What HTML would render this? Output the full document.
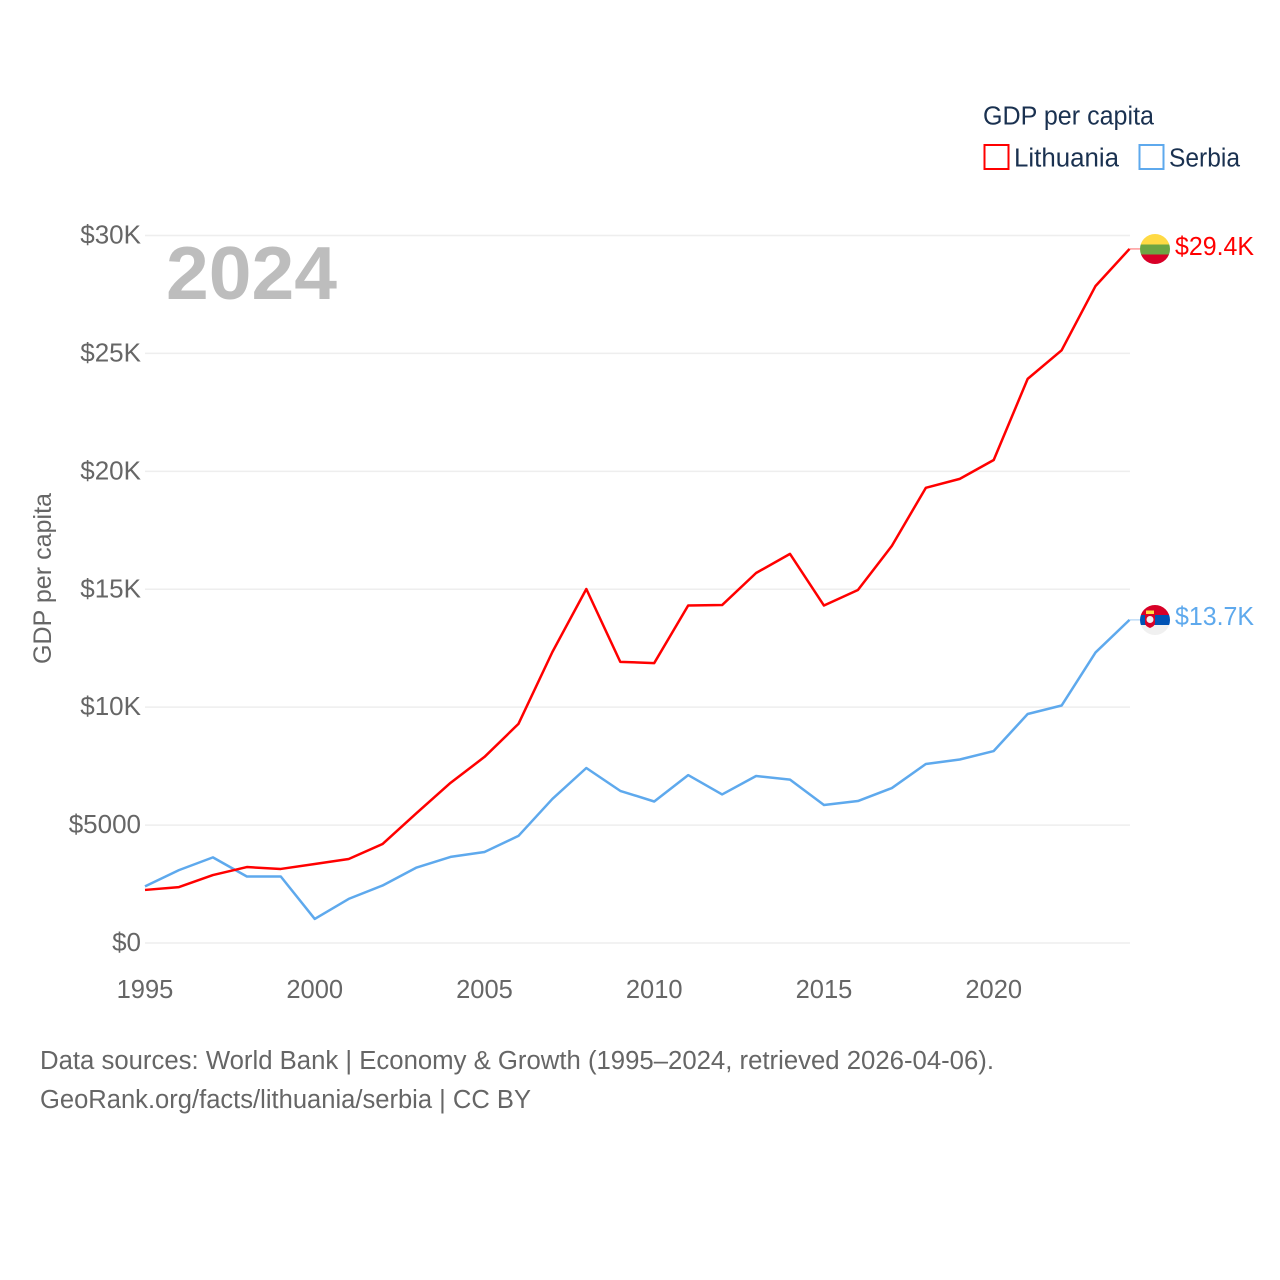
<!DOCTYPE html>
<html lang="en">
<head>
<meta charset="utf-8">
<title>GDP per capita: Lithuania and Serbia</title>
<style>
html,body{margin:0;padding:0;background:#fff}
svg{display:block}
text{font-family:"Liberation Sans",sans-serif}
</style>
</head>
<body>
<svg id="chart" xmlns="http://www.w3.org/2000/svg" width="1280" height="1280" viewBox="0 0 1280 1280">
  <rect width="1280" height="1280" fill="#fff"/>
  <g id="grid"></g>
  <g id="yticks"></g>
  <g id="xticks"></g>
  <text x="166" y="299" font-size="75" font-weight="700" fill="#bdbdbd" textLength="171" lengthAdjust="spacingAndGlyphs">2024</text>
  <text transform="translate(51,664) rotate(-90)" font-size="25" fill="#666" textLength="171" lengthAdjust="spacingAndGlyphs">GDP per capita</text>
  <g id="series"></g>
  <defs>
    <clipPath id="clip-lt"><circle cx="1155" cy="249" r="15"/></clipPath>
    <clipPath id="clip-rs"><circle cx="1155" cy="620" r="15"/></clipPath>
  </defs>
  <g clip-path="url(#clip-lt)">
    <rect x="1140" y="234" width="30" height="10.5" fill="#ffda44"/>
    <rect x="1140" y="244.5" width="30" height="10" fill="#6da544"/>
    <rect x="1140" y="254.5" width="30" height="10" fill="#d80027"/>
  </g>
  <g clip-path="url(#clip-rs)">
    <rect x="1140" y="605" width="30" height="10" fill="#d80027"/>
    <rect x="1140" y="615" width="30" height="10" fill="#0052b4"/>
    <rect x="1140" y="625" width="30" height="10" fill="#f0f0f0"/>
    <path d="M1145 614h10v9q0 3-5 5q-5-2-5-5z" fill="#d80027"/>
    <path d="M1146 610.500h8v3.500h-8z" fill="#ffda44"/>
    <circle cx="1150" cy="619.500" r="3.500" fill="#f0f0f0"/>
  </g>
  <text x="1175" y="255" font-size="25.5" fill="#ff0000" textLength="79" lengthAdjust="spacingAndGlyphs">$29.4K</text>
  <text x="1175" y="625" font-size="25.5" fill="#5ea9ed" textLength="79" lengthAdjust="spacingAndGlyphs">$13.7K</text>
  <g>
    <text x="983" y="124.500" font-size="25.500" fill="#1a3150" textLength="171" lengthAdjust="spacingAndGlyphs">GDP per capita</text>
    <rect x="984.500" y="145" width="24" height="24" fill="#fff" stroke="#ff0000" stroke-width="2"/>
    <text x="1014" y="166.500" font-size="25.500" fill="#1a3150" textLength="105" lengthAdjust="spacingAndGlyphs">Lithuania</text>
    <rect x="1139.500" y="145" width="24" height="24" fill="#fff" stroke="#5ea9ed" stroke-width="2"/>
    <text x="1169" y="166.500" font-size="25.500" fill="#1a3150" textLength="71" lengthAdjust="spacingAndGlyphs">Serbia</text>
  </g>
  <g>
    <text x="40" y="1069" font-size="25.500" fill="#666" textLength="954" lengthAdjust="spacingAndGlyphs">Data sources: World Bank | Economy &amp; Growth (1995–2024, retrieved 2026-04-06).</text>
    <text x="40" y="1108" font-size="25.500" fill="#666" textLength="491" lengthAdjust="spacingAndGlyphs">GeoRank.org/facts/lithuania/serbia | CC BY</text>
  </g>
</svg>
<script>
const years = [1995,1996,1997,1998,1999,2000,2001,2002,2003,2004,2005,2006,2007,2008,2009,2010,2011,2012,2013,2014,2015,2016,2017,2018,2019,2020,2021,2022,2023,2024];
const lithuania = [2250,2370,2880,3220,3140,3350,3560,4200,5510,6790,7890,9290,12340,15010,11920,11870,14310,14330,15690,16500,14310,14970,16840,19300,19680,20480,23920,25130,27860,29430];
const serbia = [2400,3090,3630,2820,2820,1020,1870,2440,3200,3650,3860,4540,6110,7420,6450,6000,7120,6300,7080,6930,5850,6020,6570,7590,7780,8140,9710,10070,12320,13700];
const yTickValues = [0,5000,10000,15000,20000,25000,30000];
const yTickLabels = ["$0","$5000","$10K","$15K","$20K","$25K","$30K"];
const xTickValues = [1995,2000,2005,2010,2015,2020];

const NS = "http://www.w3.org/2000/svg";
function xScale(year) { return 145 + (year - 1995) * (1129.5 - 145) / 29; }
function yScale(value) { return 943 - value * (943 - 235.5) / 30000; }

const grid = document.getElementById("grid");
const yticks = document.getElementById("yticks");
const xticks = document.getElementById("xticks");
const seriesGroup = document.getElementById("series");

yTickValues.forEach(function (value, i) {
  const line = document.createElementNS(NS, "line");
  line.setAttribute("x1", 145);
  line.setAttribute("x2", 1130);
  line.setAttribute("y1", yScale(value));
  line.setAttribute("y2", yScale(value));
  line.setAttribute("stroke", "#eeeeee");
  line.setAttribute("stroke-width", "1.5");
  
  
  grid.appendChild(line);

  const label = document.createElementNS(NS, "text");
  label.setAttribute("x", 141);
  label.setAttribute("y", yScale(value) + 8);
  label.setAttribute("text-anchor", "end");
  label.setAttribute("font-size", "26");
  label.setAttribute("fill", "#666");
  label.textContent = yTickLabels[i];
  
  
  yticks.appendChild(label);
});

xTickValues.forEach(function (year) {
  const label = document.createElementNS(NS, "text");
  label.setAttribute("x", xScale(year));
  label.setAttribute("y", 998);
  label.setAttribute("text-anchor", "middle");
  label.setAttribute("font-size", "25.5");
  label.setAttribute("fill", "#666");
  label.textContent = String(year);
  
  
  xticks.appendChild(label);
});

function buildPoints(values) {
  return values.map(function (value, i) {
    return xScale(years[i]).toFixed(2) + "," + yScale(value).toFixed(2);
  }).join(" ");
}

const serbiaLine = document.createElementNS(NS, "polyline");
serbiaLine.setAttribute("points", buildPoints(serbia));
serbiaLine.setAttribute("fill", "none");
serbiaLine.setAttribute("stroke", "#5ea9ed");
serbiaLine.setAttribute("stroke-width", "2.5");
serbiaLine.setAttribute("stroke-linejoin", "round");


seriesGroup.appendChild(serbiaLine);

const lithuaniaLine = document.createElementNS(NS, "polyline");
lithuaniaLine.setAttribute("points", buildPoints(lithuania));
lithuaniaLine.setAttribute("fill", "none");
lithuaniaLine.setAttribute("stroke", "#ff0000");
lithuaniaLine.setAttribute("stroke-width", "2.5");
lithuaniaLine.setAttribute("stroke-linejoin", "round");


seriesGroup.appendChild(lithuaniaLine);

function addConnector(value, color, name) {
  const connector = document.createElementNS(NS, "line");
  connector.setAttribute("x1", xScale(2024));
  connector.setAttribute("x2", 1140);
  connector.setAttribute("y1", yScale(value));
  connector.setAttribute("y2", yScale(value));
  connector.setAttribute("stroke", color);
  connector.setAttribute("stroke-width", "1");
  connector.setAttribute("stroke-opacity", "0.6");
  
  
  seriesGroup.appendChild(connector);
}
addConnector(lithuania[lithuania.length - 1], "#ff0000", "lithuania-connector");
addConnector(serbia[serbia.length - 1], "#5ea9ed", "serbia-connector");
</script>
</body>
</html>
